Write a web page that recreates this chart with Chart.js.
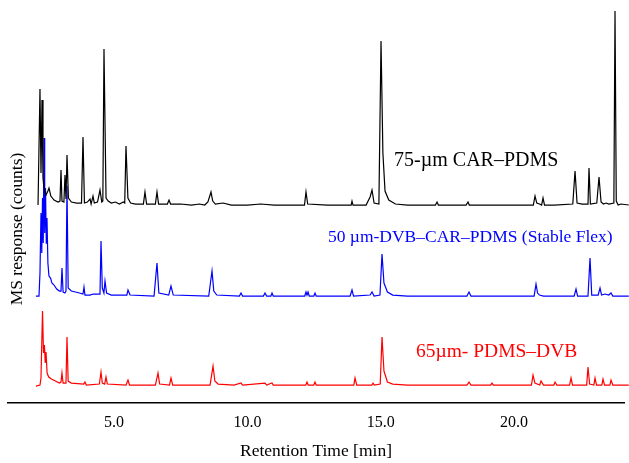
<!DOCTYPE html>
<html>
<head>
<meta charset="utf-8">
<title>Chromatograms</title>
<script src="https://cdn.jsdelivr.net/npm/chart.js@4.4.1/dist/chart.umd.min.js"></script>
<style>
  body { margin: 0; background: #fff; }
</style>
</head>
<body>
<canvas id="mycanvas" width="629" height="463"></canvas>
<script>
// retention time (min) and stacked MS response for each fibre trace
var rtBlack = [
	2.15, 2.186, 2.223, 2.261, 2.299, 2.336, 2.374, 2.45, 2.52, 2.561,
	2.63, 2.75, 2.9, 2.973, 3.011, 3.048, 3.12, 3.161, 3.198, 3.236,
	3.29, 3.4, 3.6, 3.78, 3.836, 3.89, 4.0, 4.1, 4.14, 4.211,
	4.26, 4.38, 4.473, 4.54, 4.58, 4.623, 4.7, 4.78, 4.9, 5.05,
	5.2, 5.35, 5.4, 5.448, 5.52, 5.62, 5.8, 6.1, 6.16, 6.22,
	6.55, 6.61, 6.67, 7.0, 7.061, 7.12, 7.5, 7.9, 8.2, 8.4,
	8.52, 8.635, 8.7, 8.8, 9.085, 9.4, 10.0, 10.5, 11.0, 11.5,
	12.14, 12.197, 12.26, 13.0, 13.6, 13.89, 13.922, 13.96, 14.45, 14.6,
	14.672, 14.75, 14.93, 15.01, 15.08, 15.16, 15.3, 15.55, 16.0, 17.05,
	17.11, 17.16, 18.2, 18.271, 18.32, 19.3, 20.6, 20.72, 20.784, 20.85,
	20.95, 21.03, 21.084, 21.14, 21.5, 22.2, 22.284, 22.36, 22.55, 22.77,
	22.808, 22.86, 23.1, 23.183, 23.26, 23.35, 23.45, 23.55, 23.74, 23.783,
	23.83, 23.9, 24.0, 24.3];
var respBlack = [
	198, 198, 314, 230, 303, 225, 215, 208, 212, 215,
	207, 203, 201, 202, 233, 202, 201, 228, 204, 248,
	205, 201, 200, 200, 266, 200, 201, 204, 199, 207,
	200, 201, 213, 201, 202, 354, 205, 202, 200, 201,
	199, 201, 200, 257, 205, 200, 199, 199, 211, 199,
	199, 211, 199, 199, 203, 199, 199, 198, 199, 198,
	201, 211, 202, 199, 200, 198, 198, 199, 198, 198,
	198, 211, 199, 198, 198, 198, 202, 198, 198, 206,
	213, 200, 199, 362, 250, 212, 203, 199, 198, 198,
	201, 198, 198, 201, 198, 198, 198, 198, 207, 200,
	199, 198, 205, 198, 198, 199, 232, 200, 199, 199,
	235, 199, 200, 226, 201, 199, 200, 199, 200, 392,
	202, 198, 199, 198];

var rtBlue = [
	2.07, 2.186, 2.223, 2.261, 2.29, 2.318, 2.345, 2.374, 2.4, 2.43,
	2.46, 2.486, 2.52, 2.56, 2.62, 2.67, 2.75, 2.85, 2.95, 3.011,
	3.048, 3.09, 3.16, 3.198, 3.236, 3.28, 3.4, 3.7, 3.836, 3.873,
	3.91, 4.1, 4.211, 4.473, 4.511, 4.56, 4.62, 4.661, 4.72, 4.9,
	5.4, 5.48, 5.523, 5.6, 6.5, 6.61, 6.68, 7.05, 7.135, 7.22,
	8.55, 8.673, 8.74, 8.85, 9.7, 9.76, 9.82, 10.6, 10.66, 10.72,
	10.88, 10.923, 10.97, 12.15, 12.197, 12.235, 12.273, 12.32, 12.49, 12.535,
	12.58, 13.85, 13.922, 13.98, 14.6, 14.672, 14.75, 14.97, 15.047, 15.12,
	15.25, 15.45, 16.0, 18.23, 18.309, 18.38, 20.75, 20.821, 20.88, 20.95,
	21.1, 22.25, 22.321, 22.38, 22.77, 22.846, 22.91, 23.15, 23.221, 23.28,
	23.408, 23.55, 23.633, 23.7, 24.3];
var respBlue = [
	107, 107, 130, 190, 150, 205, 160, 265, 170, 215,
	160, 185, 140, 127, 125, 120, 118, 114, 112, 112,
	135, 111, 110, 112, 217, 115, 112, 110, 109, 116,
	108, 108, 109, 109, 162, 115, 110, 122, 110, 108,
	108, 108, 113, 108, 107, 140, 110, 108, 117, 108,
	107, 132, 112, 108, 107, 110, 107, 107, 110, 107,
	107, 110, 107, 107, 111, 108, 111, 107, 107, 110,
	107, 107, 113, 107, 108, 111, 107, 108, 149, 120,
	111, 108, 107, 107, 111, 107, 107, 119, 110, 108,
	107, 107, 114, 107, 107, 145, 108, 108, 115, 108,
	109, 108, 110, 107, 107];

var rtRed = [
	2.07, 2.223, 2.261, 2.318, 2.355, 2.39, 2.42, 2.449, 2.49, 2.55,
	2.65, 2.8, 2.95, 3.011, 3.048, 3.09, 3.198, 3.236, 3.28, 3.4,
	3.86, 3.911, 3.96, 4.45, 4.511, 4.56, 4.65, 4.698, 4.75, 5.45,
	5.523, 5.58, 6.55, 6.648, 6.71, 7.08, 7.135, 7.2, 8.6, 8.711,
	8.78, 8.9, 9.5, 9.76, 9.82, 10.66, 10.72, 10.923, 10.97, 12.19,
	12.235, 12.28, 12.49, 12.535, 12.58, 13.99, 14.035, 14.1, 14.67, 14.71,
	14.76, 14.98, 15.047, 15.12, 15.25, 15.45, 16.0, 18.23, 18.309, 18.38,
	19.12, 19.171, 19.22, 20.65, 20.709, 20.78, 20.96, 21.009, 21.1, 21.49,
	21.534, 21.6, 22.08, 22.134, 22.19, 22.72, 22.771, 22.83, 22.99, 23.033,
	23.09, 23.29, 23.333, 23.39, 23.59, 23.633, 23.7, 24.3];
var respRed = [
	17, 18, 25, 92, 50, 58, 40, 51, 30, 26,
	24, 22, 20, 21, 30, 20, 20, 66, 22, 20,
	19, 21, 18, 19, 31, 20, 19, 26, 19, 18,
	23, 18, 18, 30, 19, 18, 25, 18, 18, 37,
	22, 19, 18, 20, 18, 20, 18, 20, 18, 18,
	21, 18, 18, 21, 18, 18, 25, 18, 18, 20,
	18, 19, 66, 32, 21, 19, 18, 18, 21, 18,
	18, 20, 18, 18, 28, 20, 18, 22, 18, 18,
	21, 18, 18, 25, 18, 18, 36, 19, 18, 25,
	18, 18, 24, 18, 18, 23, 18, 18];

var xTicks = [5, 10, 15, 20];
var seriesNames = ['75-\u00b5m CAR\u2013PDMS', '50 \u00b5m-DVB\u2013CAR\u2013PDMS (Stable Flex)', '65\u00b5m- PDMS\u2013DVB'];
var seriesColors = ['#000000', '#0000ff', '#ff0000'];

function toPoints(xs, ys) {
	var pts = [];
	for (var i = 0; i < xs.length; i++) {
		pts.push({x: xs[i], y: ys[i]});
	}
	return pts;
}

var serif = '"Liberation Serif", "Times New Roman", serif';

// trace captions and the vertical axis title
var labelPlugin = {
	id: 'traceLabels',
	afterDatasetsDraw: function(chart) {
		var ctx = chart.ctx;
		var xs = chart.scales.x;
		var ys = chart.scales.y;
		var spots = [[15.5, 242, 20], [13.02, 166, 17.5], [16.32, 51, 19.5]];
		ctx.save();
		ctx.textBaseline = 'middle';
		ctx.textAlign = 'left';
		for (var i = 0; i < seriesNames.length; i++) {
			ctx.fillStyle = seriesColors[i];
			ctx.font = spots[i][2] + 'px ' + serif;
			ctx.fillText(seriesNames[i], xs.getPixelForValue(spots[i][0]), ys.getPixelForValue(spots[i][1]));
		}
		ctx.translate(17, 229);
		ctx.rotate(-Math.PI / 2);
		ctx.textAlign = 'center';
		ctx.fillStyle = '#000';
		ctx.font = '17.5px ' + serif;
		ctx.fillText('MS response (counts)', 0, 0);
		ctx.restore();
	}
};

var datasets = [
	{data: toPoints(rtBlack, respBlack)},
	{data: toPoints(rtBlue, respBlue)},
	{data: toPoints(rtRed, respRed)}
];
for (var d = 0; d < datasets.length; d++) {
	datasets[d].label = seriesNames[d];
	datasets[d].borderColor = seriesColors[d];
	datasets[d].borderWidth = 1.2;
	datasets[d].pointRadius = 0;
	datasets[d].fill = false;
	datasets[d].tension = 0;
	datasets[d].clip = false;
}

var ctx = document.getElementById('mycanvas');

var chromChart = new Chart(ctx, {
	type: 'line',
	data: {datasets: datasets},
	plugins: [labelPlugin],
	options: {
		responsive: false,
		animation: false,
		layout: {padding: {left: 8, right: 5, top: 0, bottom: 0}},
		plugins: {
			legend: {display: false},
			tooltip: {enabled: false}
		},
		scales: {
			x: {
				type: 'linear',
				min: 1.024,
				max: 24.12,
				grid: {display: false, drawTicks: false},
				border: {display: true, color: '#000', width: 1.5},
				afterBuildTicks: function(axis) {
					axis.ticks = xTicks.map(function(v) { return {value: v}; });
				},
				ticks: {
					color: '#000',
					padding: 11.6,
					font: {family: serif, size: 16, lineHeight: 1},
					callback: function(v) { return v.toFixed(1); }
				},
				title: {
					display: true,
					text: 'Retention Time [min]',
					color: '#000',
					font: {family: serif, size: 17.5, lineHeight: 1},
					padding: {top: 0, bottom: 3.25}
				}
			},
			y: {
				display: false,
				min: 0,
				max: 403
			}
		}
	}
});
</script>
</body>
</html>
